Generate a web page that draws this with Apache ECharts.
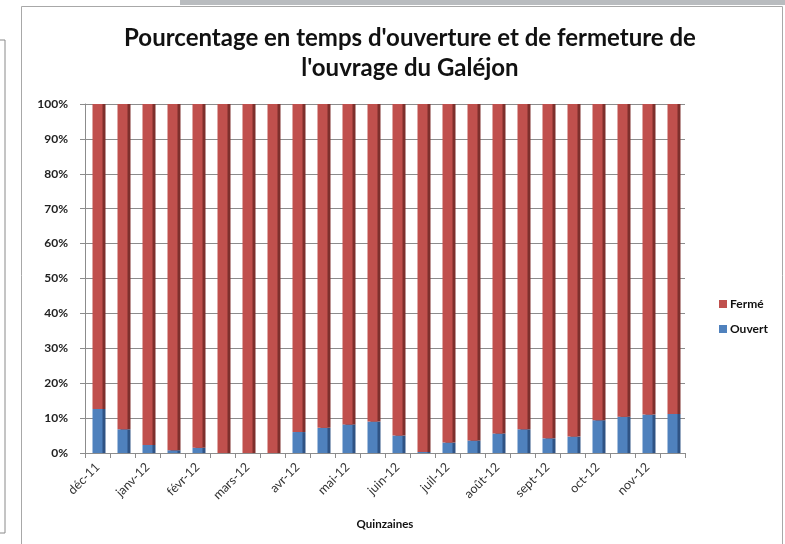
<!DOCTYPE html>
<html><head><meta charset="utf-8">
<script src="https://cdn.jsdelivr.net/npm/echarts@6/dist/echarts.min.js"></script>
<style>html,body{margin:0;padding:0;background:#fff}#c{width:785px;height:544px}</style>
</head><body><div id="c"></div>
<script>
var months = ['déc-11','janv-12','févr-12','mars-12','avr-12','mai-12','juin-12','juil-12','août-12','sept-12','oct-12','nov-12'];
var ouvert = [12.6, 6.8, 2.3, 0.8, 1.5, 0, 0, 0, 6.0, 7.2, 8.2, 9.0, 5.0, 0.3, 3.0, 3.6, 5.6, 6.8, 4.2, 4.7, 9.4, 10.4, 11.0, 11.2];
var ferme = ouvert.map(function(v){ return +(100 - v).toFixed(1); });
var yTicks = [0,10,20,30,40,50,60,70,80,90,100];

var categories = [];
months.forEach(function(m){ categories.push(m + ' |1'); categories.push(m + ' |2'); });

var chart = echarts.init(document.getElementById('c'));
var font = 'Lato, "Open Sans", sans-serif';
chart.setOption({
  animation: false,
  graphic: [
    {type:'rect', shape:{x:180,y:0,width:605,height:5}, style:{fill:'#b9bcbf'}, z:0},
    {type:'rect', shape:{x:-2,y:40,width:7,height:493}, style:{fill:'#fff', stroke:'#8a8a8a', lineWidth:1}, z:0},
    {type:'rect', shape:{x:21.5,y:6.5,width:761,height:545}, style:{fill:'none', stroke:'#a8a8a8', lineWidth:1}, z:0}
  ],
  title: {
    text: "Pourcentage en temps d'ouverture et de fermeture de\nl'ouvrage du Galéjon",
    left: 405, top: 18, textAlign: 'center',
    textStyle: {fontFamily: font, fontWeight: 'bold', fontSize: 24, lineHeight: 30, color: '#111'}
  },
  legend: {
    orient: 'vertical', left: 714, top: 293, itemGap: 13,
    itemWidth: 8, itemHeight: 8, icon: 'rect',
    data: ['Fermé', 'Ouvert'],
    textStyle: {fontFamily: font, fontWeight: 'bold', fontSize: 12, color: '#111', padding:[0,0,0,-2]}
  },
  grid: {left: 85, right: 100, top: 104, bottom: 91, containLabel: false},
  xAxis: {
    type: 'category', data: categories,
    name: 'Quinzaines', nameLocation: 'middle', nameGap: 65,
    nameTextStyle: {fontFamily: font, fontWeight: 'bold', fontSize: 11.5, color: '#111'},
    axisLine: {lineStyle: {color: '#8c8c8c'}},
    axisTick: {show: true, interval: 0, alignWithLabel: false, length: 5, lineStyle: {color: '#8c8c8c'}},
    axisLabel: {
      interval: 1, rotate: 45, fontFamily: font, fontSize: 12.5, color: '#333', margin: 12,
      formatter: function(v){ return v.split(' |')[0]; }
    }
  },
  yAxis: {
    type: 'value', min: 0, max: 100, interval: 10,
    axisLine: {show: true, lineStyle: {color: '#8c8c8c'}},
    axisTick: {show: true, length: 5, lineStyle: {color: '#8c8c8c'}},
    splitLine: {lineStyle: {color: '#8c8c8c'}},
    axisLabel: {fontFamily: font, fontWeight: 'bold', fontSize: 12, color: '#222', margin: 17,
      formatter: function(v){ return yTicks.indexOf(v) >= 0 ? v + '%' : ''; }}
  },
  series: [
    {name: 'Ouvert', type: 'bar', stack: 't', data: ouvert, barWidth: 10,
     itemStyle: {color: '#4f81bd', shadowColor: '#2f5384', shadowOffsetX: 3, shadowOffsetY: 0, shadowBlur: 0}},
    {name: 'Fermé', type: 'bar', stack: 't', data: ferme, barWidth: 10,
     itemStyle: {color: '#c0504d', shadowColor: '#7e2f2c', shadowOffsetX: 3, shadowOffsetY: 0, shadowBlur: 0}}
  ],
  color: ['#4f81bd', '#c0504d']
});
</script></body></html>
